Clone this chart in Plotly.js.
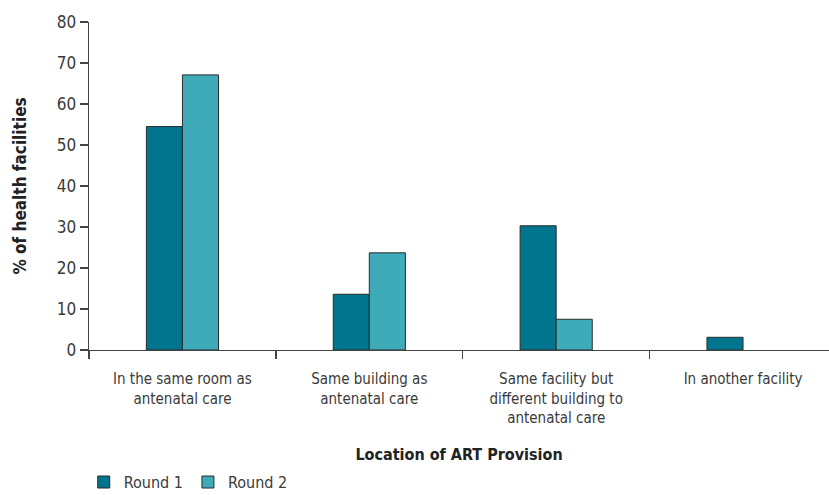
<!DOCTYPE html>
<html>
<head>
<meta charset="utf-8">
<script src="https://cdn.plot.ly/plotly-3.0.1.min.js"></script>
<style>html,body{margin:0;padding:0;background:#fff;}#chart{width:829px;height:495px;}</style>
</head>
<body>
<div id="chart"></div>
<script>
const categories = [
  "In the same room as<br>antenatal care",
  "Same building as<br>antenatal care",
  "Same facility but<br>different building to<br>antenatal care",
  "In another facility"
];
const round1 = [54.5, 13.6, 30.3, 3.1];
const round2 = [67.1, 23.7, 7.5, 0];
const yTicks = [0, 10, 20, 30, 40, 50, 60, 70, 80];

const FONT = "'DejaVu Sans Condensed', 'Liberation Sans Narrow', sans-serif";
const TXT = "#3a3a3a";

const traces = [
  {type: "bar", name: "Round 1", x: categories, y: round1,
   marker: {color: "#00758d", line: {color: "#2b2b2b", width: 1}}},
  {type: "bar", name: "Round 2", x: categories, y: round2,
   marker: {color: "#3faab8", line: {color: "#2b2b2b", width: round2.map(v => v > 0 ? 1 : 0)}}}
];

const layout = {
  width: 829, height: 495,
  margin: {l: 89, r: 0, t: 22, b: 145},
  paper_bgcolor: "#fff", plot_bgcolor: "#fff",
  font: {family: FONT, size: 15, color: TXT},
  barmode: "group",
  bargap: 0.614, bargroupgap: 0,
  showlegend: true,
  legend: {orientation: "h", xref: "container", yref: "container",
           x: 0.101, xanchor: "left", y: 0.026, yanchor: "middle",
           font: {family: FONT, size: 16, color: TXT}, traceorder: "normal",
           itemwidth: 30, tracegroupgap: 0},
  xaxis: {
    type: "category", range: [-0.5, 3.46],
    showline: true, linecolor: "#444", linewidth: 1.3,
    ticks: "outside", tickson: "boundaries", ticklen: 8, tickcolor: "#444", tickwidth: 1.3,
    showgrid: false, zeroline: false, ticklabelstandoff: 15,
    tickfont: {family: FONT, size: 15, color: TXT},
    title: {text: "<b>Location of ART Provision</b>", font: {family: FONT, size: 16, color: "#222"}, standoff: 22}
  },
  yaxis: {
    range: [0, 80], tickvals: yTicks, ticktext: yTicks.map(String),
    showline: true, linecolor: "#444", linewidth: 1.3,
    ticks: "outside", ticklen: 8, tickcolor: "#444", tickwidth: 1.3,
    showgrid: false, zeroline: false,
    tickfont: {family: FONT, size: 17, color: TXT},
    title: {text: "<b>% of health facilities</b>", font: {family: FONT, size: 17, color: "#222"}, standoff: 26}
  }
};

Plotly.newPlot("chart", traces, layout, {displayModeBar: false, staticPlot: true});
</script>
</body>
</html>
